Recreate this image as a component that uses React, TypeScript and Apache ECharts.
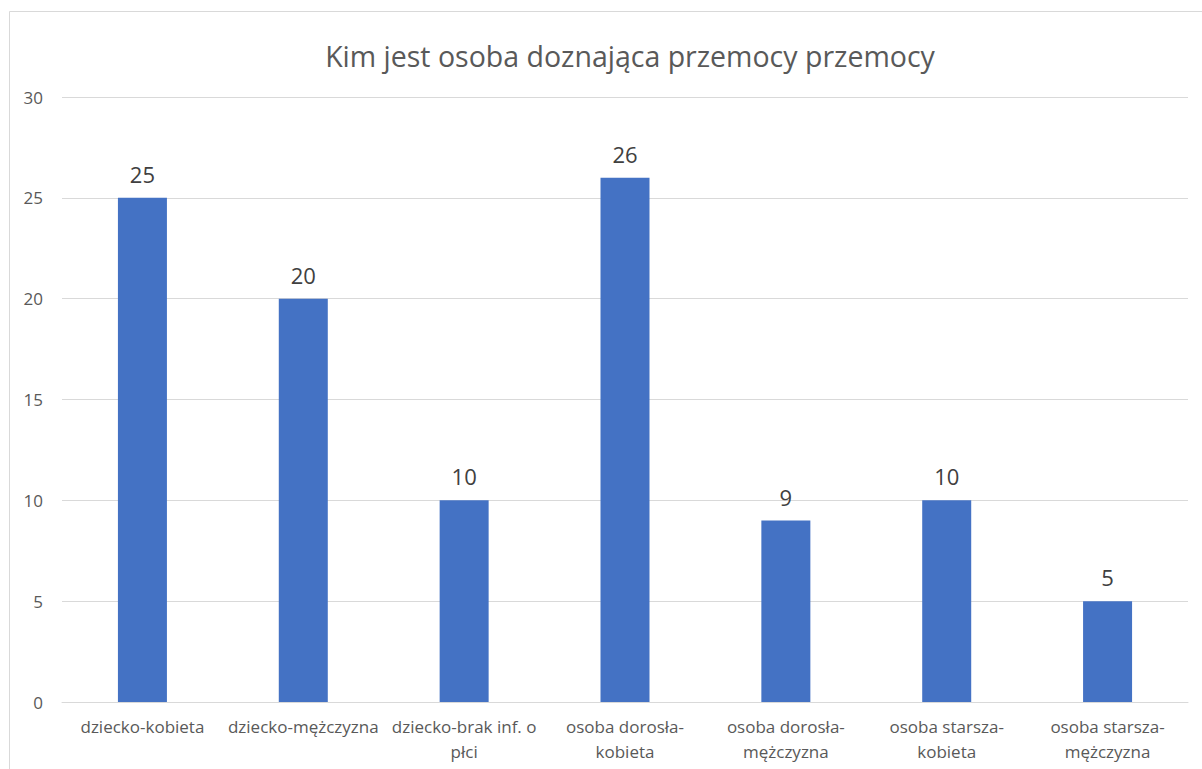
import React, { useEffect, useRef } from "react";
import * as echarts from "echarts";

const title = "Kim jest osoba doznająca przemocy przemocy";
const categories = [
  "dziecko-kobieta",
  "dziecko-mężczyzna",
  "dziecko-brak inf. o\npłci",
  "osoba dorosła-\nkobieta",
  "osoba dorosła-\nmężczyzna",
  "osoba starsza-\nkobieta",
  "osoba starsza-\nmężczyzna",
];
const values = [25, 20, 10, 26, 9, 10, 5];
const yMin = 0;
const yMax = 30;
const yStep = 5;

const FONT = "'Open Sans', 'Noto Sans', sans-serif";

export default function App() {
  const ref = useRef<HTMLDivElement>(null);
  useEffect(() => {
    document.body.style.margin = "0";
    const chart = echarts.init(ref.current!, undefined, { renderer: "svg" });
    chart.setOption({
      animation: false,
      backgroundColor: "#ffffff",
      textStyle: { fontFamily: FONT },
      title: {
        text: title,
        left: 625,
        textAlign: "center",
        top: 36,
        textStyle: { fontFamily: FONT, fontSize: 28.5, fontWeight: "normal", color: "#595959" },
      },
      graphic: [
        {
          type: "rect",
          shape: { x: 9.5, y: 11.5, width: 1250, height: 800 },
          style: { fill: "none", stroke: "#d9d9d9", lineWidth: 1 },
          silent: true,
        },
      ],
      grid: { left: 62, right: 14, top: 97, bottom: 67, containLabel: false },
      xAxis: {
        type: "category",
        data: categories,
        axisLine: { show: true, lineStyle: { color: "#d9d9d9", width: 1 } },
        axisTick: { show: false },
        axisLabel: {
          interval: 0,
          margin: 12,
          fontSize: 17,
          lineHeight: 25,
          color: "#595959",
          fontFamily: FONT,
        },
      },
      yAxis: {
        type: "value",
        min: yMin,
        max: yMax,
        interval: yStep,
        axisLine: { show: false },
        axisTick: { show: false },
        splitLine: { lineStyle: { color: "#d9d9d9", width: 1 } },
        axisLabel: { fontSize: 17, color: "#595959", margin: 19, fontFamily: FONT },
      },
      series: [
        {
          type: "bar",
          data: values,
          barWidth: 49,
          itemStyle: { color: "#4472c4" },
          label: {
            show: true,
            position: "top",
            distance: 13,
            fontSize: 22,
            color: "#404040",
            fontFamily: FONT,
          },
        },
      ],
    });
    return () => chart.dispose();
  }, []);
  return (
    <div style={{ position: "absolute", left: 0, top: 0, width: 1202, height: 769 }}>
      <div ref={ref} style={{ width: 1202, height: 769 }} />
    </div>
  );
}
